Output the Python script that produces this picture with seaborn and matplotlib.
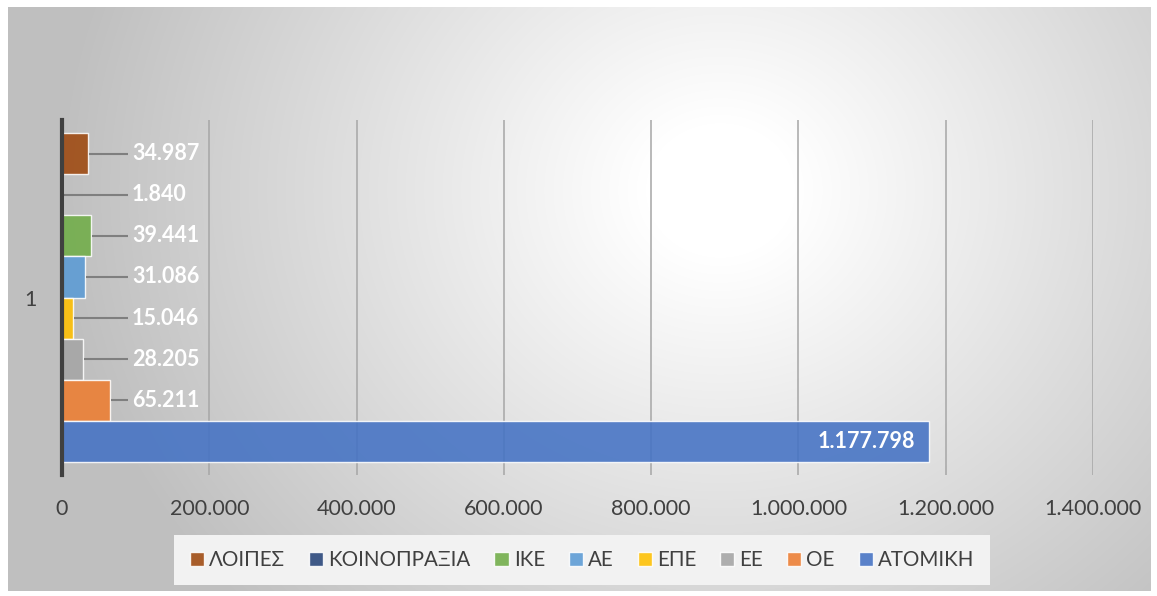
import numpy as np
import pandas as pd
import matplotlib
matplotlib.use("Agg")
import matplotlib.pyplot as plt
from matplotlib.ticker import FuncFormatter, MultipleLocator
import seaborn as sns

# ---- data ----
series = ["ΛΟΙΠΕΣ", "ΚΟΙΝΟΠΡΑΞΙΑ", "ΙΚΕ", "ΑΕ", "ΕΠΕ", "ΕΕ", "ΟΕ", "ΑΤΟΜΙΚΗ"]
values = [34987, 1840, 39441, 31086, 15046, 28205, 65211, 1177798]
category = ["1"] * len(series)
colors = ["#9E480E", "#264478", "#70AD47", "#5B9BD5", "#FFC000", "#A5A5A5", "#ED7D31", "#4472C4"]
x_ticks_max = 1400000

df = pd.DataFrame({"cat": category, "series": series, "value": values})

sns.set_theme(style="white")
FONT = ["Lato", "DejaVu Sans"]
plt.rcParams["font.family"] = FONT

W, H = 1157, 596
fig = plt.figure(figsize=(W / 100, H / 100), dpi=100)

# background radial gradient
bg = fig.add_axes([0, 0, 1, 1], zorder=-10)
yy, xx = np.mgrid[0:H, 0:W]
cx, cy = 720, 190
r = np.sqrt(((xx - cx) / 620.0) ** 2 + ((yy - cy) / 560.0) ** 2)
g = 1.0 - 0.25 * np.clip((r - 0.12) / 0.95, 0, 1)
img = np.dstack([g, g, g])
mask = (xx < 8) | (xx > 1150) | (yy < 7) | (yy > 590)
img[mask] = 1.0
bg.imshow(img, extent=(0, 1, 0, 1), aspect="auto", origin="upper")
bg.set_axis_off()

ax = fig.add_axes([62 / W, (H - 475) / H, (1093 - 62) / W, (475 - 120) / H])
ax.set_facecolor("none")

sns.barplot(data=df, x="value", y="cat", hue="series", hue_order=series,
            palette=colors, saturation=1, orient="h", width=0.8, ax=ax, legend=True,
            edgecolor=(1, 1, 1, 0.6), linewidth=1, alpha=0.88, zorder=3)

half = 0.8 / (329 / 355) / 2
ax.set_ylim(half, -half)
ax.set_xlim(0, x_ticks_max)
ax.xaxis.set_major_locator(MultipleLocator(200000))
ax.xaxis.set_major_formatter(FuncFormatter(lambda v, p: f"{v:,.0f}".replace(",", ".")))
ax.set_xlabel("")
ax.set_ylabel("")
ax.grid(axis="x", color="#a6a6a6", linewidth=1.1, zorder=1)
ax.grid(axis="y", visible=False)
ax.set_axisbelow(True)
for s in ["top", "right", "bottom"]:
    ax.spines[s].set_visible(False)
ax.spines["left"].set_color("#404040")
ax.spines["left"].set_linewidth(3)
ax.spines["left"].set_zorder(5)
ax.tick_params(axis="x", length=0, pad=17, labelsize=15.5, labelcolor="#404040")
ax.tick_params(axis="y", length=0, pad=18, labelsize=15.5, labelcolor="#404040")

# data labels
bars = [p for p in ax.patches if p.get_height() > 0][:len(series)]
bars = sorted(bars, key=lambda p: p.get_y())
for p, v in zip(bars, values):
    yc = p.get_y() + p.get_height() / 2
    txt = f"{v:,}".replace(",", ".")
    if v > 500000:
        ax.annotate(txt, (v, yc), xytext=(-10, 0), textcoords="offset points",
                    ha="right", va="center", color="white", fontsize=15.5,
                    fontweight="bold", zorder=6)
    else:
        ax.plot([v + 1500, 90000], [yc, yc], color="#7f7f7f", lw=1.5, zorder=4,
                solid_capstyle="butt")
        ax.text(95000, yc, txt, ha="left", va="center", color="white",
                fontsize=15.5, fontweight="bold", zorder=6)

leg = ax.legend(loc="center", bbox_to_anchor=(582 / W, 1 - 560 / H),
                bbox_transform=fig.transFigure, ncol=8, frameon=True,
                facecolor="#f2f2f2", edgecolor="none", fancybox=False,
                framealpha=1, handlelength=0.7, handleheight=0.7,
                handletextpad=0.25, columnspacing=1.15, borderpad=0.75,
                prop={"family": FONT, "size": 14.8})
for t in leg.get_texts():
    t.set_color("#404040")
for h in leg.legend_handles:
    h.set_alpha(0.88)

fig.savefig("out.png", dpi=100)
